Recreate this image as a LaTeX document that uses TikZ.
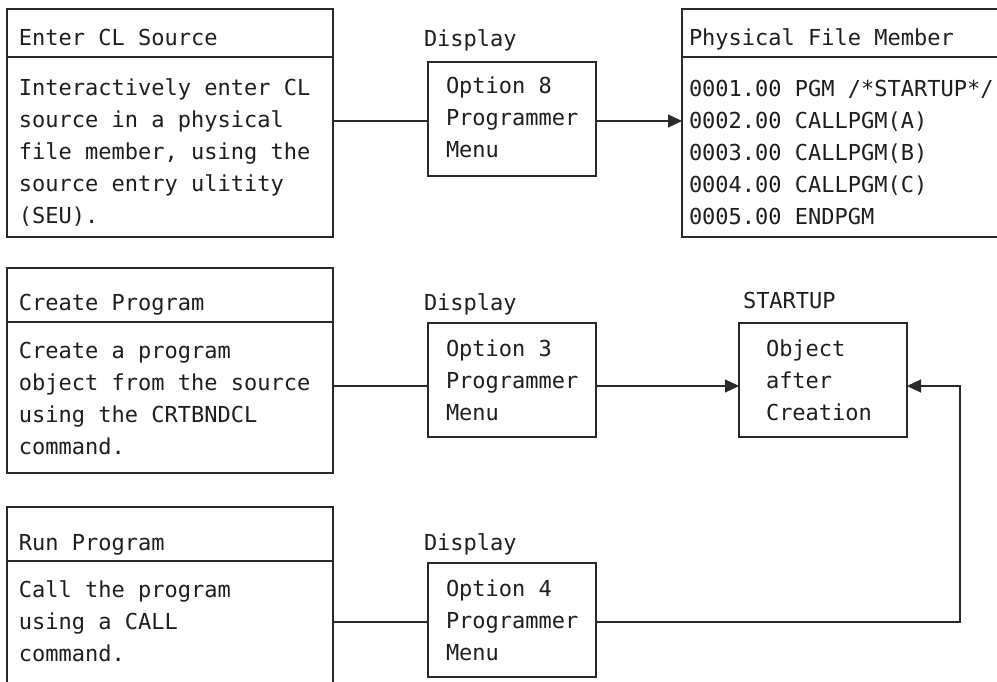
\documentclass[tikz,border=0pt]{standalone}
\usepackage{fontspec}
\newfontfamily\mono{DejaVu Sans Mono}
\usetikzlibrary{arrows.meta}
\definecolor{linec}{HTML}{2A2A2A}
\definecolor{textc}{HTML}{1E1E1E}
\newcommand{\ml}[1]{\begin{tabular}[t]{@{}l@{}}#1\end{tabular}}
\tikzset{
  box/.style={draw=linec, line width=1.1pt, inner sep=0pt, outer sep=0pt, anchor=north west},
  txt/.style={inner sep=0pt, outer sep=0pt, anchor=base west, text=textc,
    font=\mono\fontsize{22}{32}\selectfont},
  conn/.style={draw=linec, line width=1.1pt},
  arr/.style={conn, -{Triangle[length=14pt,width=13pt]}}
}
\begin{document}
\begin{tikzpicture}[x=1pt,y=-1pt]
\clip (0,0) rectangle (997,681);
\fill[white] (0,0) rectangle (997,681);
% ---------- row 1 ----------
\node[box, minimum width=326pt, minimum height=228pt] (enter) at (7,9) {};
\draw[conn] ([yshift=-48pt]enter.north west) -- ([yshift=-48pt]enter.north east);
\node[txt] (enterh) at (19,45) {Enter CL Source};
\node[txt] (enterb) at (19,95) {\ml{Interactively enter CL\\source in a physical\\file member, using the\\source entry ulitity\\(SEU).}};

\node[txt] (disp1) at (424,46) {Display};
\node[box, minimum width=168pt, minimum height=114pt] (opt8) at (428,62) {};
\node[txt] (opt8t) at (446,93) {\ml{Option 8\\Programmer\\Menu}};

\node[box, minimum width=340pt, minimum height=228pt] (pfm) at (682,9) {};
\draw[conn] ([yshift=-48pt]pfm.north west) -- ([yshift=-48pt]pfm.north east);
\node[txt] (pfmh) at (689,45) {Physical File Member};
\node[txt] (pfmb) at (689,96) {\ml{0001.00 PGM /*STARTUP*/\\0002.00 CALLPGM(A)\\0003.00 CALLPGM(B)\\0004.00 CALLPGM(C)\\0005.00 ENDPGM}};

\draw[conn] ([yshift=-2pt]enter.east |- opt8.west) -- ([yshift=-2pt]opt8.west);
\draw[arr] ([yshift=-2pt]opt8.east) -- ([yshift=-2pt]opt8.east -| pfm.west);

% ---------- row 2 ----------
\node[box, minimum width=326pt, minimum height=205pt] (create) at (7,268) {};
\draw[conn] ([yshift=-54pt]create.north west) -- ([yshift=-54pt]create.north east);
\node[txt] (createh) at (19,310) {Create Program};
\node[txt] (createb) at (19,358) {\ml{Create a program\\object from the source\\using the CRTBNDCL\\command.}};

\node[txt] (disp2) at (424,310) {Display};
\node[box, minimum width=168pt, minimum height=114pt] (opt3) at (428,323) {};
\node[txt] (opt3t) at (446,356) {\ml{Option 3\\Programmer\\Menu}};

\node[txt] (startl) at (743,308) {STARTUP};
\node[box, minimum width=168pt, minimum height=114pt] (start) at (739,323) {};
\node[txt] (startt) at (766,356) {\ml{Object\\after\\Creation}};

\draw[conn] ([yshift=-6pt]create.east |- opt3.west) -- ([yshift=-6pt]opt3.west);
\draw[arr] ([yshift=-6pt]opt3.east) -- ([yshift=-6pt]start.west);

% ---------- row 3 ----------
\node[box, minimum width=326pt, minimum height=220pt] (run) at (7,507) {};
\draw[conn] ([yshift=-54pt]run.north west) -- ([yshift=-54pt]run.north east);
\node[txt] (runh) at (19,550) {Run Program};
\node[txt] (runb) at (19,597) {\ml{Call the program\\using a CALL\\command.}};

\node[txt] (disp3) at (424,550) {Display};
\node[box, minimum width=168pt, minimum height=114pt] (opt4) at (428,563) {};
\node[txt] (opt4t) at (446,596) {\ml{Option 4\\Programmer\\Menu}};

\coordinate (loop) at (960,622);
\draw[conn] (run.east |- loop) -- (opt4.west |- loop);
\draw[arr] (opt4.east |- loop) -- (loop) -- (loop |- 0,386) -- ([yshift=-6pt]start.east);
\end{tikzpicture}
\end{document}
